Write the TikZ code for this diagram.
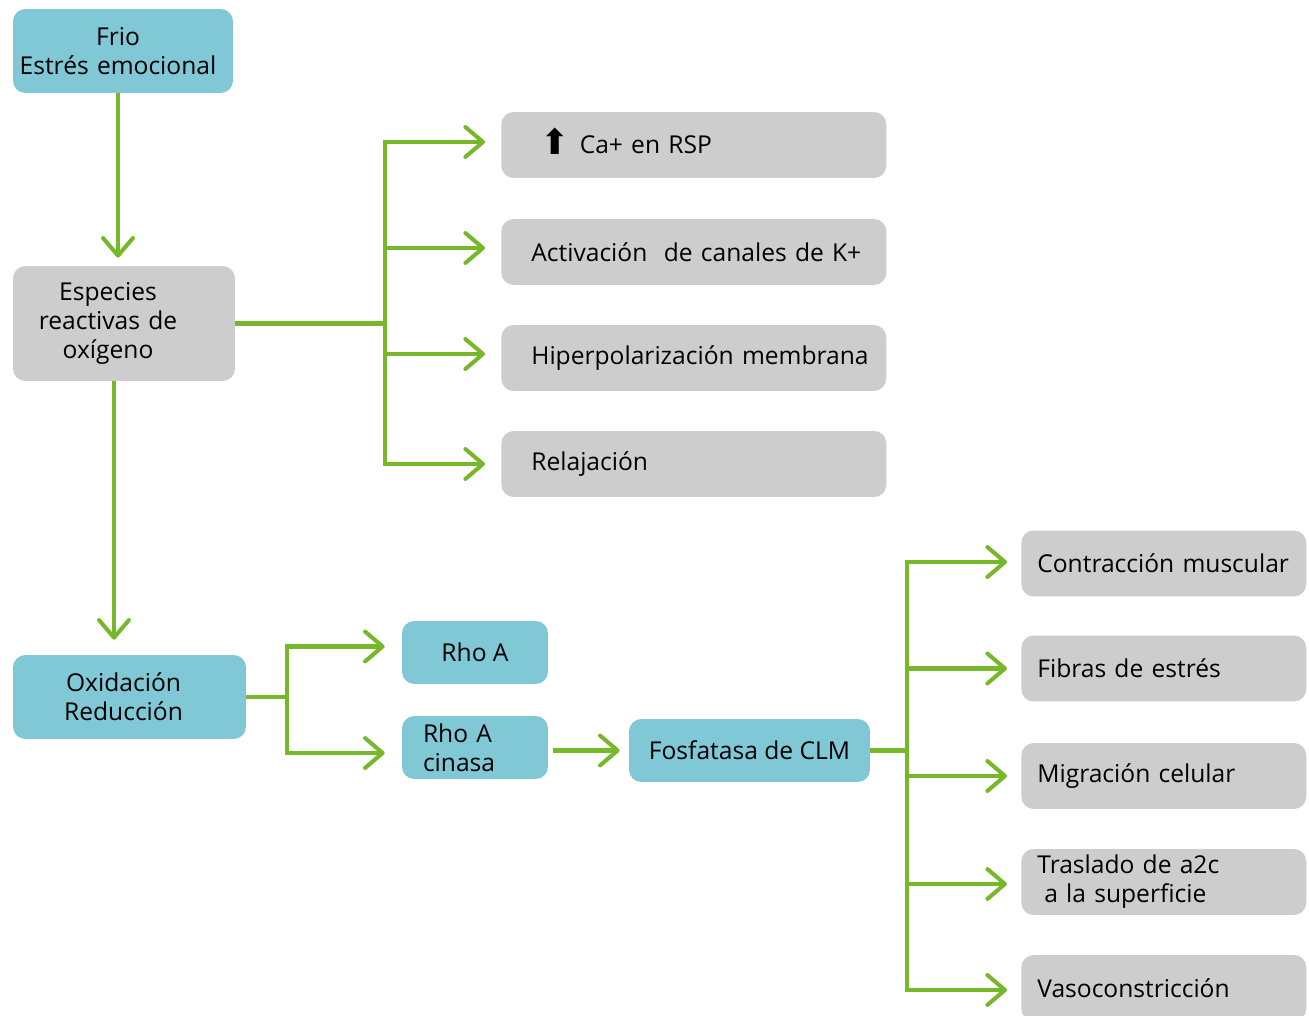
\documentclass[tikz,border=0pt]{standalone}
\usepackage{fontspec}
\setmainfont{Open Sans}
\newfontfamily\symfont{DejaVu Sans}
\usetikzlibrary{arrows.meta}
\definecolor{verde}{HTML}{76B82A}
\definecolor{azul}{HTML}{80C8D6}
\definecolor{gris}{HTML}{CDCDCD}

\begin{document}
\begin{tikzpicture}[x=0.02cm, y=-0.02cm,
        every node/.style={rounded corners=7pt, inner sep=0pt, text=black,
        font=\fontsize{14}{16.5}\selectfont},
        caja/.style={fill=azul, align=center},
        gris/.style={fill=gris, align=left, minimum height=1.32cm},
        efecto/.style={gris, anchor=west, text width=7.1cm, inner xsep=0.3cm,
        execute at begin node=\hspace*{0.3cm}},
        flecha/.style={draw=verde, line width=2.3pt,
        -{Straight Barb[length=10pt, width=17pt, round]}},
        linea/.style={draw=verde, line width=2.3pt}]
        \useasboundingbox (0,0) rectangle (1309,1016);

        \node[caja, text width=4.4cm, minimum height=1.68cm] (A) at (123,51) {Frio\hspace{0.2cm}\mbox{}\\Estrés emocional\hspace{0.2cm}\mbox{}};
        \node[fill=gris, align=center, text width=4.44cm, minimum height=2.3cm] (B) at (124,323.5) {Especies\hspace{0.64cm}\mbox{}\\reactivas de\hspace{0.64cm}\mbox{}\\oxígeno\hspace{0.64cm}\mbox{}};
        \node[efecto] (C) at (501,145) {\hspace*{0.18cm}\smash{\symfont\fontsize{20}{16}\selectfont\raisebox{-0.5pt}{⬆}}\hspace{0.2cm}Ca+ en RSP};
        \node[efecto] (D) at (501,252) {Activación\ \ de canales de K+};
        \node[efecto] (E) at (501,358) {Hiperpolarización membrana};
        \node[efecto] (F) at (501,464) {Relajación};
        \node[caja, text width=4.66cm, minimum height=1.68cm] (G) at (129.5,697) {Oxidación\hspace{0.24cm}\mbox{}\\Reducción\hspace{0.24cm}\mbox{}};
        \node[caja, minimum width=2.92cm, minimum height=1.26cm] (H) at (475,652.5) {Rho A};
        \node[caja, align=left, text width=2.08cm, inner xsep=0.42cm, minimum height=1.26cm] (I) at (475,747.5) {Rho A\\cinasa};
        \node[caja, minimum width=4.82cm, minimum height=1.26cm] (J) at (749.5,750.5) {Fosfatasa de CLM};
        \node[gris, anchor=west, text width=5.06cm, inner xsep=0.32cm] (K) at (1021,563.5) {Contracción muscular};
        \node[gris, anchor=west, text width=5.06cm, inner xsep=0.32cm] (L) at (1021,668.5) {Fibras de estrés};
        \node[gris, anchor=west, text width=5.06cm, inner xsep=0.32cm] (M) at (1021,776) {Migración celular};
        \node[gris, anchor=west, text width=5.06cm, inner xsep=0.32cm] (N) at (1021,882) {Traslado de a2c\\\hspace*{0.14cm}a la superficie};
        \node[gris, anchor=west, text width=5.06cm, inner xsep=0.32cm] (O) at (1021,988) {Vasoconstricción};

        \coordinate (P) at (385,323.5);
        \coordinate (Q) at (287,697);
        \coordinate (R) at (907,750.5);

        \draw[flecha, shorten >=8*0.02cm] ([xshift=-0.1cm]A.south) -- ([xshift=-0.1cm]A.south |- B.north);
        \draw[flecha, shorten >=15*0.02cm] ([xshift=-0.2cm]B.south) -- ([xshift=-0.2cm]B.south |- G.north);
        \draw[linea] (B.east) -- (P);
        \draw[flecha, shorten >=16*0.02cm] (P) |- ([yshift=0.06cm]C.west);
        \draw[flecha, shorten >=16*0.02cm] (P) |- ([yshift=0.08cm]D.west);
        \draw[flecha, shorten >=16*0.02cm] (P) |- ([yshift=0.08cm]E.west);
        \draw[flecha, shorten >=16*0.02cm] (P) |- (F.west);
        \draw[linea] (G.east) -- (Q);
        \draw[flecha, shorten >=17*0.02cm] (Q) |- ([yshift=0.12cm]H.west);
        \draw[flecha, shorten >=17*0.02cm] (Q) |- ([yshift=-0.11cm]I.west);
        \draw[flecha, shorten <=5*0.02cm, shorten >=9*0.02cm] (I.east |- J.west) -- (J.west);
        \draw[linea] (J.east) -- (R);
        \draw[flecha, shorten >=14*0.02cm] (R) |- ([yshift=0.03cm]K.west);
        \draw[flecha, shorten >=14*0.02cm] (R) |- (L.west);
        \draw[flecha, shorten >=14*0.02cm] (R) |- (M.west);
        \draw[flecha, shorten >=14*0.02cm] (R) |- ([yshift=-0.04cm]N.west);
        \draw[flecha, shorten >=14*0.02cm] (R) |- ([yshift=-0.04cm]O.west);
\end{tikzpicture}
\end{document}
